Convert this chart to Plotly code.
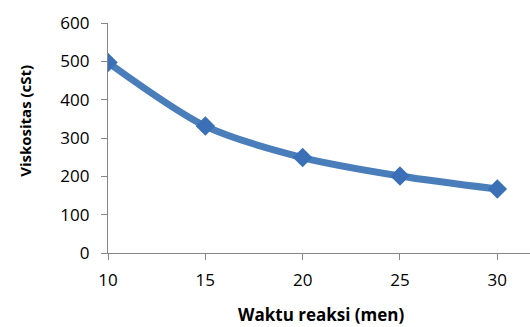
import plotly.graph_objects as go

# Reaction time (minutes) vs. viscosity (cSt)
waktu = [10, 15, 20, 25, 30]
viskositas = [497, 331, 249, 201, 167]
y_ticks = [0, 100, 200, 300, 400, 500, 600]
x_ticks = [10, 15, 20, 25, 30]

LINE_COLOR = "#4A7EBB"
MARKER_COLOR = "#3C70B6"
AXIS_COLOR = "#868686"
FONT = "Open Sans"

fig = go.Figure()
fig.add_trace(go.Scatter(
    x=waktu, y=viskositas,
    mode="lines+markers",
    line=dict(color=LINE_COLOR, width=7, shape="spline", smoothing=0.8),
    marker=dict(symbol="diamond", size=15, color=MARKER_COLOR,
                line=dict(width=0)),
    showlegend=False,
    hoverinfo="skip",
))

fig.update_layout(
    width=530, height=327,
    margin=dict(l=108, r=0, t=23, b=74),
    paper_bgcolor="white", plot_bgcolor="white",
    font=dict(family=FONT, color="#000000"),
    xaxis=dict(
        range=[10, 31.68], tickvals=x_ticks, ticktext=[str(v) for v in x_ticks],
        showgrid=False, zeroline=False,
        showline=True, linecolor=AXIS_COLOR, linewidth=1.3,
        ticks="outside", ticklen=6, tickcolor=AXIS_COLOR, tickwidth=1.3,
        tickfont=dict(size=17, family=FONT),
        ticklabelstandoff=5,
        fixedrange=True,
    ),
    yaxis=dict(
        range=[0, 600], tickvals=y_ticks, ticktext=[str(v) for v in y_ticks],
        showgrid=False, zeroline=False,
        showline=True, linecolor=AXIS_COLOR, linewidth=1.3,
        ticks="outside", ticklen=6, tickcolor=AXIS_COLOR, tickwidth=1.3,
        tickfont=dict(size=17, family=FONT),
        ticklabelstandoff=8,
        fixedrange=True,
    ),
    annotations=[
        dict(text="<b>Viskositas (cSt)</b>", xref="paper", yref="paper",
             x=-0.197, y=0.574, xanchor="center", yanchor="middle",
             textangle=-90, showarrow=False,
             font=dict(size=15, family=FONT)),
        dict(text="<b>Waktu reaksi (men)</b>", xref="paper", yref="paper",
             x=0.507, y=-0.268, xanchor="center", yanchor="middle",
             showarrow=False, font=dict(size=17, family=FONT)),
    ],
)

fig.write_html("out.html", config={"displayModeBar": False})
